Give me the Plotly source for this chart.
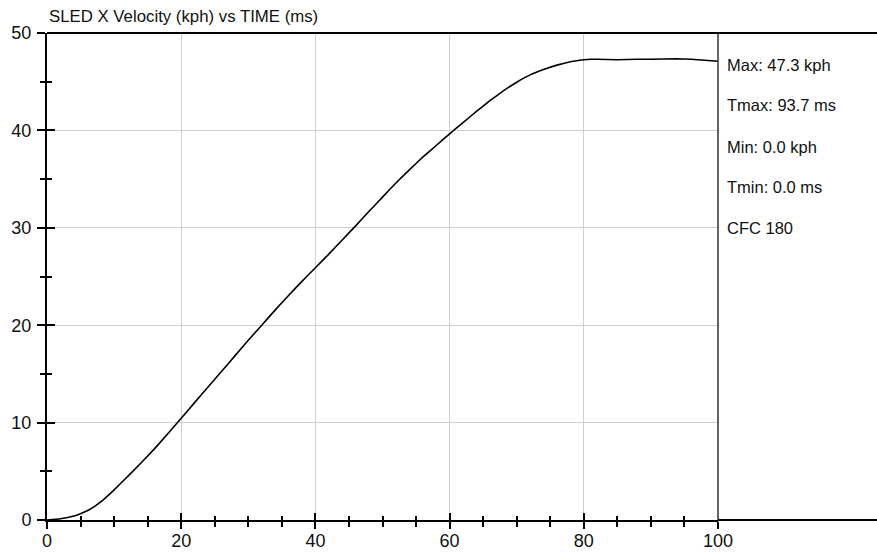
import plotly.graph_objects as go

time_ms = [0, 2, 4, 5, 6, 7, 8, 9, 10, 12, 14, 16, 18, 20, 22, 24, 26, 28, 30, 32, 34, 36, 38,
           40, 42, 44, 46, 48, 50, 52, 54, 56, 58, 60, 62, 64, 66, 68, 70, 72, 74, 76, 78,
           80, 81, 82, 85, 88, 90, 93.7, 96, 98, 100]
velocity_kph = [0, 0.12, 0.4, 0.65, 0.95, 1.35, 1.85, 2.45, 3.1, 4.45, 5.85, 7.3, 8.85, 10.45,
                12.05, 13.65, 15.25, 16.85, 18.45, 20.0, 21.55, 23.05, 24.5, 25.9, 27.3, 28.75,
                30.2, 31.7, 33.15, 34.6, 35.95, 37.25, 38.45, 39.65, 40.8, 41.95, 43.05, 44.05,
                44.95, 45.7, 46.25, 46.7, 47.05, 47.25, 47.3, 47.3, 47.25, 47.3, 47.3, 47.35,
                47.3, 47.2, 47.1]

x_ticks = [0, 20, 40, 60, 80, 100]
y_ticks = [0, 10, 20, 30, 40, 50]
title_text = "SLED X Velocity (kph) vs TIME (ms)"
stats_lines = ["Max: 47.3 kph", "Tmax: 93.7 ms", "Min: 0.0 kph", "Tmin: 0.0 ms", "CFC 180"]

W, H = 877, 554
ml, mr, mt, mb = 46.5, 158.5, 32.5, 34
pw = W - ml - mr
ph = H - mt - mb

fig = go.Figure()
fig.add_trace(go.Scatter(x=time_ms, y=velocity_kph, mode="lines",
                         line=dict(color="black", width=1.6, shape="spline", smoothing=0.3),
                         showlegend=False, hoverinfo="skip"))
# invisible trace on overlay axes so their inside ticks are drawn
fig.add_trace(go.Scatter(x=time_ms, y=velocity_kph, mode="lines", xaxis="x2", yaxis="y2",
                         line=dict(color="rgba(0,0,0,0)", width=0),
                         showlegend=False, hoverinfo="skip"))

tickfont = dict(family="Liberation Sans, Arial, sans-serif", size=18, color="#111")

fig.update_layout(
    width=W, height=H,
    margin=dict(l=ml, r=mr, t=mt, b=mb, pad=0, autoexpand=False),
    paper_bgcolor="white", plot_bgcolor="white",
    xaxis=dict(range=[0, 100], tickvals=x_ticks, ticks="outside", ticklen=7, tickwidth=2,
               tickcolor="black", showgrid=True, gridcolor="#cfcfcf", gridwidth=1,
               showline=True, linecolor="black", linewidth=2, zeroline=False,
               tickfont=tickfont, ticklabelstandoff=-4, automargin=False,
               minor=dict(dtick=5, ticks="outside", ticklen=5, tickwidth=1.5,
                          tickcolor="black", showgrid=False)),
    yaxis=dict(range=[0, 50], tickvals=y_ticks, ticks="outside", ticklen=8, tickwidth=2,
               tickcolor="black", showgrid=True, gridcolor="#cfcfcf", gridwidth=1,
               showline=True, linecolor="black", linewidth=2, zeroline=False,
               tickfont=tickfont, ticklabelstandoff=2, automargin=False,
               minor=dict(dtick=5, ticks="outside", ticklen=5, tickwidth=1.5,
                          tickcolor="black", showgrid=False)),
    xaxis2=dict(range=[0, 100], overlaying="x", anchor="y2", side="bottom",
                tickvals=x_ticks, ticks="inside", ticklen=7, tickwidth=2, tickcolor="black",
                showticklabels=False, showgrid=False, zeroline=False, showline=False,
                automargin=False,
                minor=dict(dtick=5, ticks="inside", ticklen=4, tickwidth=1.5,
                           tickcolor="black", showgrid=False)),
    yaxis2=dict(range=[0, 50], overlaying="y", anchor="x2", side="left",
                tickvals=y_ticks, ticks="inside", ticklen=8, tickwidth=2, tickcolor="black",
                showticklabels=False, showgrid=False, zeroline=False, showline=False,
                automargin=False,
                minor=dict(dtick=5, ticks="inside", ticklen=5, tickwidth=1.5,
                           tickcolor="black", showgrid=False)),
)

x_right = (W - ml) / pw + 0.01
fig.add_shape(type="line", xref="paper", yref="paper", x0=0, x1=x_right, y0=1, y1=1,
              line=dict(color="black", width=2))
fig.add_shape(type="line", xref="paper", yref="paper", x0=1, x1=x_right, y0=0, y1=0,
              line=dict(color="black", width=2))
fig.add_shape(type="line", xref="paper", yref="paper", x0=1, x1=1, y0=0, y1=1,
              line=dict(color="#333", width=1.5))

fig.add_annotation(text=title_text, xref="paper", yref="paper",
                   x=(47 - ml) / pw, y=(H - mb - 16) / ph, xanchor="left", yanchor="middle",
                   showarrow=False,
                   font=dict(family="Liberation Sans, Arial", size=16.8, color="#111"))

stat_y = [65, 105, 146.5, 186.5, 228]
for txt, py in zip(stats_lines, stat_y):
    fig.add_annotation(text=txt, xref="paper", yref="paper",
                       x=(726 - ml) / pw, y=(H - mb - py) / ph, xanchor="left", yanchor="middle",
                       showarrow=False,
                       font=dict(family="Liberation Sans, Arial", size=16.5, color="#111"))

fig.write_html("out.html", config={"displayModeBar": False},
               post_script="document.body.style.margin='0';document.body.style.overflow='hidden';")
